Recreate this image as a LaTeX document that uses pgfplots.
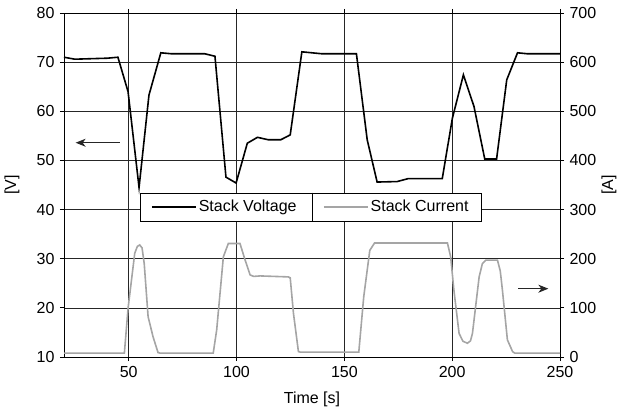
\documentclass[border=0pt]{standalone}
\usepackage{pgfplots}
\pgfplotsset{compat=1.18}
\usepackage{fontspec}
\setmainfont{Liberation Sans}
\usetikzlibrary{arrows.meta}
\definecolor{curgray}{RGB}{165,165,165}
\begin{document}
\fontsize{16}{19}\selectfont
\begin{tikzpicture}
\pgfplotsset{
  every axis/.append style={
    scale only axis, width=496pt, height=344pt,
    xmin=20, xmax=250,
    tick align=outside, major tick length=4pt,
    /pgf/number format/assume math mode=true,
    tick label style={font=\fontsize{16}{19}\selectfont},
    label style={font=\fontsize{16}{19}\selectfont},
    axis line style={black, line width=0.8pt},
    tick style={black, line width=0.8pt},
  }
}
\begin{axis}[
  ymin=10, ymax=80,
  xtick={50,100,150,200,250},
  ytick={10,20,...,80},
  grid=major,
  major grid style={black!85, line width=0.7pt},
  axis y line*=left,
  xlabel={Time [s]},
  ylabel={[V]},
  every axis x label/.style={at={(axis description cs:0.5,-0.122)}, anchor=center, inner sep=0pt},
  every axis y label/.style={at={(axis description cs:-0.1048,0.5)}, rotate=90, anchor=center, inner sep=0pt},
  clip=true,
]
\addplot[black, line width=1.6pt] coordinates {
(20,71.0)(25,70.6)(40,70.8)(45,71.0)(49.7,64.0)(54.8,44.5)(59.4,63.3)(64.9,71.9)(69.9,71.7)(85.3,71.7)(90,71.2)(95.1,46.6)(99.8,45.4)(105,53.5)(109.7,54.7)(114.8,54.2)(120.5,54.2)(124.9,55.2)(130.3,72.1)(139.6,71.7)(155.6,71.7)(160.6,54.2)(165.2,45.6)(174.5,45.7)(179.6,46.3)(195.4,46.3)(200.1,58.6)(205.2,67.4)(210.1,61.0)(215.1,50.3)(220.6,50.3)(225.3,66.4)(230.3,71.9)(235,71.7)(250,71.7)
};
\draw[black!85, line width=1.1pt, -{Stealth[length=10pt, width=8pt, inset=3pt]}] (axis cs:45.8,53.6) -- (axis cs:25.4,53.6);
\end{axis}
\begin{axis}[
  ymin=0, ymax=700,
  ytick={0,100,...,700},
  axis y line*=right,
  axis x line=none,
  ylabel={[A]},
  every axis y label/.style={at={(axis description cs:1.0988,0.5)}, rotate=90, anchor=center, inner sep=0pt},
  legend columns=2,
  legend style={name=leg, at={(0.4975,0.436)}, anchor=center, draw=black, fill=white,
    line width=0.8pt, font=\fontsize{16}{19}\selectfont,
    inner xsep=11pt, inner ysep=5pt,
    /tikz/every even column/.append style={column sep=24.5pt}},
  legend image code/.code={\draw[#1] (0pt,0pt) -- (44pt,0pt);},
]
\addlegendimage{black, line width=1.8pt}
\addlegendentry{Stack Voltage}
\addplot[curgray, line width=1.6pt] coordinates {
(20,8)(48,8)(49.7,99)(52.8,211)(54,225)(55.1,228)(56.2,222)(57.2,190)(59,82)(61.3,41)(63.6,9)(64.5,8)(89.2,8)(90.8,55)(93.9,204)(96.2,231)(101.6,231)(104,197)(106.3,167)(108,164)(110.9,165)(124,163)(124.9,161)(126.4,89)(128.7,11)(129.5,10)(156.7,10)(159,123)(161.8,217)(164,232)(197.8,232)(199.3,204)(200.8,136)(203.2,48)(205,32)(207.1,28)(208.5,33)(209.4,48)(212.5,163)(214,190)(215.6,197)(221,197)(222.3,175)(223.3,136)(225.6,35)(228,11)(229,8)(250,8)
};
\addlegendentry{Stack Current}
\draw[black!85, line width=1.1pt, -{Stealth[length=10pt, width=8pt, inset=3pt]}] (axis cs:230.6,139) -- (axis cs:244.6,139);
\end{axis}
\draw[black, line width=0.8pt] ([xshift=1.5pt]leg.north) -- ([xshift=1.5pt]leg.south);
\path (-64pt,-57pt) rectangle (553pt,357pt);
\end{tikzpicture}
\end{document}
